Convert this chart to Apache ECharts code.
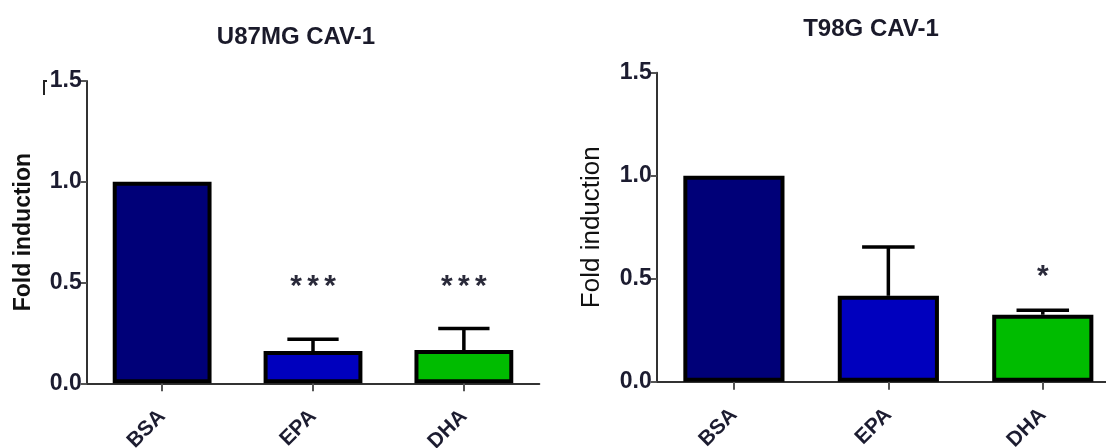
<!DOCTYPE html>
<html>
<head>
<meta charset="utf-8">
<script src="https://cdn.jsdelivr.net/npm/echarts@6/dist/echarts.min.js"></script>
<style>
html,body{margin:0;padding:0;background:#fff;}
#c{width:1106px;height:448px;}
</style>
</head>
<body>
<div id="c"></div>
<script>
// ---- data ----
var categories = ['BSA', 'EPA', 'DHA'];
var yTicks = [0.0, 0.5, 1.0, 1.5];
var u87Title = 'U87MG CAV-1';
var t98Title = 'T98G CAV-1';
var yName = 'Fold induction';
var u87Mean = [1.0, 0.16, 0.165];
var u87Sem = [0, 0.058, 0.107];
var u87Sig = ['', '***', '***'];
var t98Mean = [1.0, 0.417, 0.325];
var t98Sem = [0, 0.237, 0.022];
var t98Sig = ['', '', '*'];
var barColors = ['#000078', '#0000BE', '#00BC00'];

var FONT = 'Liberation Sans, Arial, sans-serif';
var chart = echarts.init(document.getElementById('c'), null, {renderer: 'canvas'});

function errRender(means, sems) {
  return function (params, api) {
    var i = api.value(0);
    if (!sems[i]) return null;
    var p0 = api.coord([i, means[i]]);
    var p1 = api.coord([i, means[i] + sems[i]]);
    var band = api.size([1, 0])[0];
    var hw = band * 0.17;
    return {
      type: 'group',
      children: [
        {type: 'line', shape: {x1: p0[0], y1: p0[1], x2: p1[0], y2: p1[1]}, style: {stroke: '#000', lineWidth: 3.5}},
        {type: 'line', shape: {x1: p1[0] - hw, y1: p1[1], x2: p1[0] + hw, y2: p1[1]}, style: {stroke: '#000', lineWidth: 3.5}}
      ]
    };
  };
}
function sigRender(sig, level) {
  return function (params, api) {
    var i = api.value(0);
    if (!sig[i]) return null;
    var p = api.coord([i, level]);
    var n = sig[i].length, step = 17;
    var kids = [];
    for (var k = 0; k < n; k++) {
      kids.push({
        type: 'text',
        style: {text: '*', x: p[0] + (k - (n - 1) / 2) * step, y: p[1] + 4, align: 'center', verticalAlign: 'middle',
                font: 'bold 30px ' + FONT, fill: '#2a2a3a'}
      });
    }
    return {type: 'group', children: kids};
  };
}
function yAxis(gi, nameWeight, nameSize) {
  return {
    gridIndex: gi, type: 'value', min: 0, max: 1.5, interval: 0.5,
    name: yName, nameLocation: 'middle', nameGap: 52,
    nameTextStyle: {fontFamily: FONT, fontWeight: nameWeight, fontSize: nameSize, color: '#111'},
    axisLine: {show: true, lineStyle: {color: '#333', width: 2}},
    axisTick: {show: true, length: 6, lineStyle: {color: '#555', width: 2}},
    axisLabel: {fontFamily: FONT, fontWeight: 'bold', fontSize: 23, color: '#1c1c30', margin: 5,
      formatter: function (v) { return yTicks.indexOf(v) >= 0 ? v.toFixed(1) : ''; }},
    splitLine: {show: false}
  };
}
function xAxis(gi) {
  return {
    gridIndex: gi, type: 'category', data: categories,
    axisLine: {show: true, lineStyle: {color: '#333', width: 2}},
    axisTick: {show: true, alignWithLabel: true, length: 8, lineStyle: {color: '#555', width: 2}},
    axisLabel: {fontFamily: FONT, fontWeight: 'bold', fontSize: 21, color: '#1c1c30', rotate: 45, margin: 30}
  };
}
function bars(gi, means) {
  return {
    type: 'bar', xAxisIndex: gi, yAxisIndex: gi, barWidth: '65.5%',
    data: means.map(function (v, i) { return {value: v, itemStyle: {color: barColors[i]}}; }),
    itemStyle: {borderColor: '#000', borderWidth: 4},
    z: 2
  };
}

chart.setOption({
  animation: false,
  title: [
    {text: u87Title, left: 291, top: 20, textAlign: 'center',
     textStyle: {fontFamily: FONT, fontWeight: 'bold', fontSize: 24, color: '#1a1a2a'}},
    {text: t98Title, left: 866, top: 12, textAlign: 'center',
     textStyle: {fontFamily: FONT, fontWeight: 'bold', fontSize: 24, color: '#1a1a2a'}}
  ],
  graphic: [
    {type: 'polyline', shape: {points: [[47, 81], [44, 81], [44, 95]]}, style: {stroke: '#222', lineWidth: 2, fill: null}}
  ],
  grid: [
    {left: 86.7, width: 452.6, top: 80.9, height: 302.4, containLabel: false, outerBoundsMode: 'none'},
    {left: 656.7, width: 463.3, top: 72.7, height: 309, containLabel: false, outerBoundsMode: 'none'}
  ],
  xAxis: [xAxis(0), xAxis(1)],
  yAxis: [yAxis(0, 'bold', 23), yAxis(1, 'normal', 26)],
  series: [
    bars(0, u87Mean),
    {type: 'custom', xAxisIndex: 0, yAxisIndex: 0, renderItem: errRender(u87Mean, u87Sem),
     data: categories.map(function (c, i) { return [i]; }), z: 3},
    {type: 'custom', xAxisIndex: 0, yAxisIndex: 0, renderItem: sigRender(u87Sig, 0.5),
     data: categories.map(function (c, i) { return [i]; }), z: 4},
    bars(1, t98Mean),
    {type: 'custom', xAxisIndex: 1, yAxisIndex: 1, renderItem: errRender(t98Mean, t98Sem),
     data: categories.map(function (c, i) { return [i]; }), z: 3},
    {type: 'custom', xAxisIndex: 1, yAxisIndex: 1, renderItem: sigRender(t98Sig, 0.53),
     data: categories.map(function (c, i) { return [i]; }), z: 4}
  ]
});
</script>
</body>
</html>
